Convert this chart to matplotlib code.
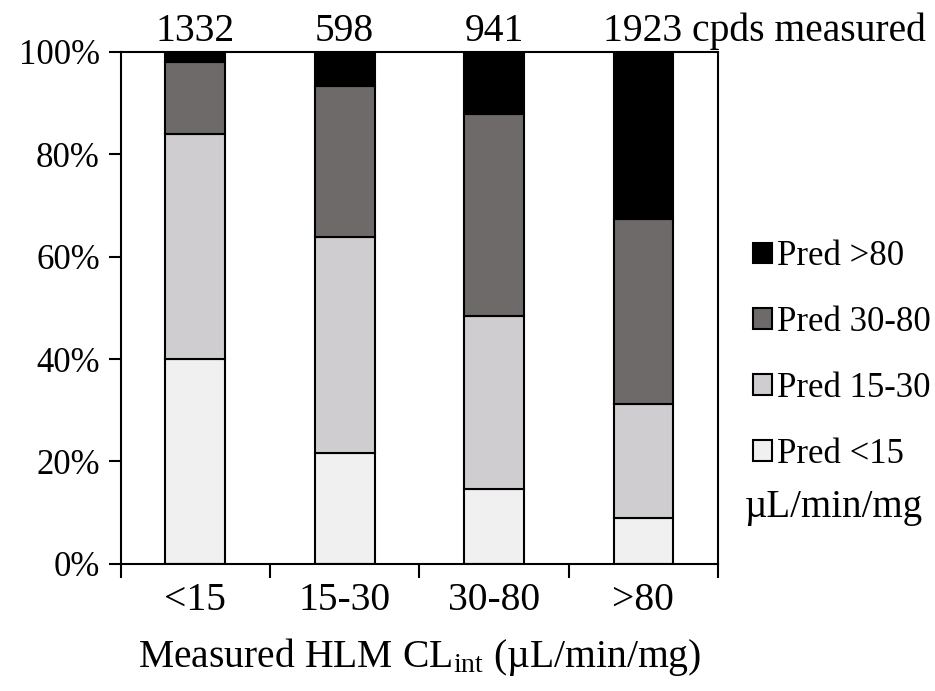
import matplotlib
matplotlib.use("Agg")
import matplotlib.pyplot as plt
import numpy as np

# measured HLM CLint bins and their predicted-bin composition (%)
categories = ["<15", "15-30", "30-80", ">80"]
counts = [1332, 598, 941, 1923]
pred_labels = ["Pred <15", "Pred 15-30", "Pred 30-80", "Pred >80"]
pred_lt15 = [40.0, 21.7, 14.6, 9.0]
pred_15_30 = [44.0, 42.2, 33.8, 22.2]
pred_30_80 = [14.0, 29.5, 39.5, 36.2]
pred_gt80 = [2.0, 6.6, 12.1, 32.6]
colors = ["#f0f0f0", "#cfcdcf", "#6f6a6a", "#000000"]

plt.rcParams["font.family"] = "Liberation Serif"
plt.rcParams["mathtext.fontset"] = "custom"
plt.rcParams["mathtext.rm"] = "Liberation Serif"
plt.rcParams["mathtext.it"] = "Liberation Serif:italic"

fig = plt.figure(figsize=(9.35, 6.91), dpi=100)
ax = fig.add_axes([0.129, 0.184, 0.639, 0.741])

x = np.arange(len(categories))
bottom = np.zeros(len(categories))
series = [pred_lt15, pred_15_30, pred_30_80, pred_gt80]
handles = []
for vals, lab, col in zip(series, pred_labels, colors):
    b = ax.bar(x, vals, 0.4, bottom=bottom, color=col, edgecolor="black",
               linewidth=1.5, label=lab)
    handles.append(b)
    bottom += np.array(vals)

ax.set_xlim(-0.5, 3.5)
ax.set_ylim(0, 100)
ax.set_yticks(np.arange(0, 101, 20))
ax.set_yticklabels(["{0}%".format(v) for v in range(0, 101, 20)])
ax.set_xticks(np.arange(-0.5, 3.6, 1.0))
ax.set_xticklabels([])
ax.set_xticks(x, minor=True)
ax.set_xticklabels(categories, minor=True)
ax.tick_params(axis="x", which="minor", length=0, pad=13, labelsize=28.5)
ax.tick_params(axis="x", which="major", length=10, width=1.5, direction="out")
ax.tick_params(axis="y", length=9, width=1.5, direction="out", labelsize=25, pad=6)
for s in ax.spines.values():
    s.set_linewidth(1.5)

ax.set_xlabel("Measured HLM CL$_{\\mathrm{int}}$ (\u00b5L/min/mg)", fontsize=28.5, labelpad=12)

for i, n in enumerate(counts):
    if i == len(counts) - 1:
        ax.text(x[i] - 0.27, 100.4, "{0} cpds measured".format(n), ha="left",
                va="bottom", fontsize=28.5)
    else:
        ax.text(x[i], 100.4, str(n), ha="center", va="bottom", fontsize=28.5)

leg = ax.legend(handles[::-1], pred_labels[::-1], loc="upper left",
                bbox_to_anchor=(1.058, 0.632), frameon=False, fontsize=25,
                handlelength=0.55, handleheight=0.55, handletextpad=0.16,
                labelspacing=0.95, borderaxespad=0, borderpad=0)
ax.text(1.045, 0.11, "\u00b5L/min/mg", transform=ax.transAxes, fontsize=28,
        ha="left", va="center")

fig.savefig("out.png", dpi=100)
